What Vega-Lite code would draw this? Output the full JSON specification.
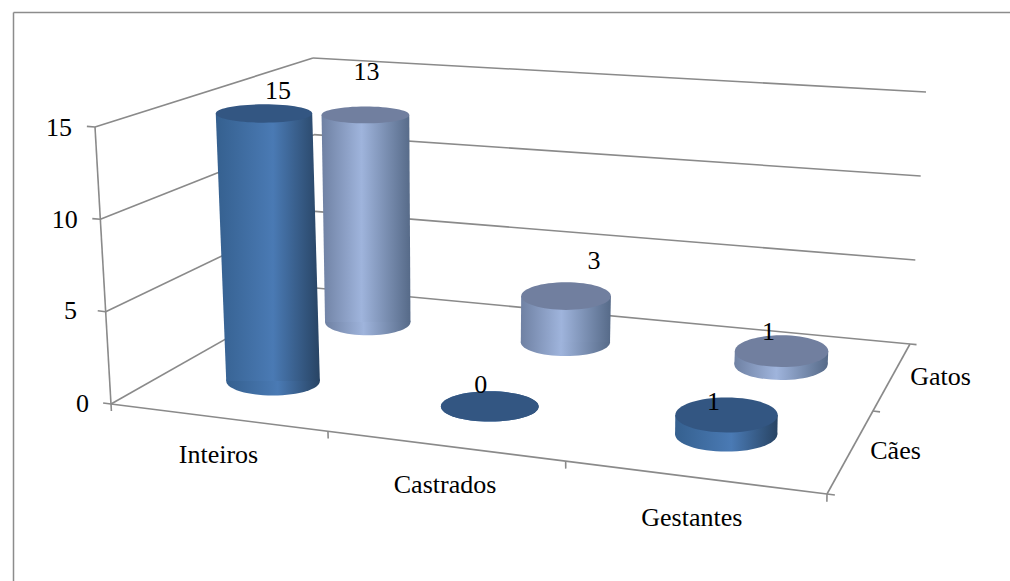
{
"$schema":"https://vega.github.io/schema/vega-lite/v6.json",
"autosize":{"type":"none"},
"padding":{"left":13,"top":12,"right":0,"bottom":0},
"width":997,"height":569,
"background":"white",
"view":{"stroke":null,"fill":"white"},
"resolve":{"axis":{"x":"independent","y":"independent"}},
"datasets":{
"cilindros":[
{"categoria":"Inteiros","especie":"Cães","valor":15},
{"categoria":"Castrados","especie":"Cães","valor":0},
{"categoria":"Gestantes","especie":"Cães","valor":1},
{"categoria":"Inteiros","especie":"Gatos","valor":13},
{"categoria":"Castrados","especie":"Gatos","valor":3},
{"categoria":"Gestantes","especie":"Gatos","valor":1}
],
"linhas":[
{"u":0,"d":1,"z":1,"u2":1,"d2":1,"z2":1},
{"u":0,"d":1,"z":0.6667,"u2":1,"d2":1,"z2":0.6667},
{"u":0,"d":1,"z":0.3333,"u2":1,"d2":1,"z2":0.3333},
{"u":0,"d":1,"z":0,"u2":1,"d2":1,"z2":0},
{"u":0,"d":0,"z":1,"u2":0,"d2":1,"z2":1},
{"u":0,"d":0,"z":0.6667,"u2":0,"d2":1,"z2":0.6667},
{"u":0,"d":0,"z":0.3333,"u2":0,"d2":1,"z2":0.3333},
{"u":0,"d":0,"z":0,"u2":0,"d2":1,"z2":0},
{"u":0,"d":0,"z":0,"u2":0,"d2":0,"z2":1},
{"u":0,"d":0,"z":0,"u2":1,"d2":0,"z2":0},
{"u":1,"d":0,"z":0,"u2":1,"d2":1,"z2":0},
{"u":0,"d":0,"z":1,"u2":-0.011,"d2":0,"z2":1},
{"u":0,"d":0,"z":0.6667,"u2":-0.011,"d2":0,"z2":0.6667},
{"u":0,"d":0,"z":0.3333,"u2":-0.011,"d2":0,"z2":0.3333},
{"u":0,"d":0,"z":0,"u2":-0.011,"d2":0,"z2":0},
{"u":0,"d":0,"z":0,"u2":0,"d2":0,"z2":-0.025},
{"u":0.303,"d":0,"z":0,"u2":0.303,"d2":0,"z2":-0.025},
{"u":0.635,"d":0,"z":0,"u2":0.635,"d2":0,"z2":-0.025},
{"u":1,"d":0,"z":0,"u2":1,"d2":0,"z2":-0.025},
{"u":1,"d":0,"z":0,"u2":1.011,"d2":0,"z2":0},
{"u":1,"d":0.553,"z":0,"u2":1.011,"d2":0.553,"z2":0},
{"u":1,"d":1,"z":0,"u2":1.011,"d2":1,"z2":0}
],
"rotulos":[
{"texto":"15","u":-0.049,"d":0,"z":0.987},
{"texto":"10","u":-0.049,"d":0,"z":0.654},
{"texto":"5","u":-0.049,"d":0,"z":0.32},
{"texto":"0","u":-0.04,"d":0,"z":-0.013},
{"texto":"Inteiros","u":0.215,"d":-0.26,"z":0},
{"texto":"Castrados","u":0.518,"d":-0.26,"z":0},
{"texto":"Gestantes","u":0.848,"d":-0.26,"z":0},
{"texto":"Gatos","u":1.075,"d":0.81,"z":0},
{"texto":"Cães","u":1.062,"d":0.32,"z":0}
]
},
"layer":[
{"data":{"name":"linhas"},
"transform":[
{"calculate":"(1-datum.z)*((1-datum.d)*((1-datum.u)*111+datum.u*827)+datum.d*((1-datum.u)*316+datum.u*910))+datum.z*((1-datum.d)*((1-datum.u)*95+datum.u*832)+datum.d*((1-datum.u)*313+datum.u*926))","as":"px"},
{"calculate":"(1-datum.z)*((1-datum.d)*((1-datum.u)*404+datum.u*494)+datum.d*((1-datum.u)*288+datum.u*344))+datum.z*((1-datum.d)*((1-datum.u)*127+datum.u*182)+datum.d*((1-datum.u)*58+datum.u*92))","as":"py"},
{"calculate":"(1-datum.z2)*((1-datum.d2)*((1-datum.u2)*111+datum.u2*827)+datum.d2*((1-datum.u2)*316+datum.u2*910))+datum.z2*((1-datum.d2)*((1-datum.u2)*95+datum.u2*832)+datum.d2*((1-datum.u2)*313+datum.u2*926))","as":"px2"},
{"calculate":"(1-datum.z2)*((1-datum.d2)*((1-datum.u2)*404+datum.u2*494)+datum.d2*((1-datum.u2)*288+datum.u2*344))+datum.z2*((1-datum.d2)*((1-datum.u2)*127+datum.u2*182)+datum.d2*((1-datum.u2)*58+datum.u2*92))","as":"py2"}
],
"mark":{"type":"rule","color":"#8a8a8a","strokeWidth":1.6},
"encoding":{
"x":{"field":"px","type":"quantitative","axis":{"orient":"top","title":null,"labels":false,"ticks":false,"grid":false,"domain":true,"domainColor":"#8c8c8c","domainWidth":1.5},"scale":{"domain":[13,1010],"range":[0,997]}},
"x2":{"field":"px2"},
"y":{"field":"py","type":"quantitative","axis":{"orient":"left","title":null,"labels":false,"ticks":false,"grid":false,"domain":true,"domainColor":"#8c8c8c","domainWidth":1.5},"scale":{"domain":[12,581],"range":[0,569]}},
"y2":{"field":"py2"}
}},
{"data":{"name":"rotulos"},
"transform":[
{"calculate":"(1-datum.z)*((1-datum.d)*((1-datum.u)*111+datum.u*827)+datum.d*((1-datum.u)*316+datum.u*910))+datum.z*((1-datum.d)*((1-datum.u)*95+datum.u*832)+datum.d*((1-datum.u)*313+datum.u*926))","as":"px"},
{"calculate":"(1-datum.z)*((1-datum.d)*((1-datum.u)*404+datum.u*494)+datum.d*((1-datum.u)*288+datum.u*344))+datum.z*((1-datum.d)*((1-datum.u)*127+datum.u*182)+datum.d*((1-datum.u)*58+datum.u*92))","as":"py"}
],
"mark":{"type":"text","font":"Liberation Serif","fontSize":26,"color":"black","align":"center","baseline":"middle"},
"encoding":{
"x":{"field":"px","type":"quantitative","axis":null,"scale":{"domain":[13,1010],"range":[0,997]}},
"y":{"field":"py","type":"quantitative","axis":null,"scale":{"domain":[12,581],"range":[0,569]}},
"text":{"field":"texto"}
}},
{"data":{"name":"cilindros"},
"transform":[
{"calculate":"[0.148,0.467,0.815][indexof(['Inteiros','Castrados','Gestantes'],datum.categoria)]+(datum.especie=='Cães'?0:0.005)","as":"u"},
{"calculate":"datum.especie=='Cães'?0.3:0.79","as":"d"},
{"calculate":"['base','topo']","as":"fase"},
{"flatten":["fase"]},
{"calculate":"datum.fase=='base'?0:(datum.especie=='Cães'?datum.valor:datum.valor-0.25)/15","as":"z"},
{"calculate":"(1-datum.z)*((1-datum.d)*111+datum.d*316)+datum.z*((1-datum.d)*95+datum.d*313)","as":"ax"},
{"calculate":"(1-datum.z)*((1-datum.d)*827+datum.d*910)+datum.z*((1-datum.d)*832+datum.d*926)","as":"bx"},
{"calculate":"(1-datum.z)*((1-datum.d)*404+datum.d*288)+datum.z*((1-datum.d)*127+datum.d*58)","as":"ay"},
{"calculate":"(1-datum.z)*((1-datum.d)*494+datum.d*344)+datum.z*((1-datum.d)*182+datum.d*92)","as":"by"},
{"calculate":"datum.ax+(datum.bx-datum.ax)*datum.u","as":"px"},
{"calculate":"datum.ay+(datum.by-datum.ay)*datum.u","as":"py"},
{"calculate":"(0.0675+0.0095*datum.u)*(datum.bx-datum.ax)","as":"meio"},
{"calculate":"datum.px-datum.meio","as":"pxE"},
{"calculate":"datum.px+datum.meio","as":"pxD"},
{"calculate":"pow(2*datum.meio,2)","as":"area2"},
{"calculate":"datum.fase=='topo'&&datum.valor>=13?'alto':(datum.categoria=='Gestantes'?'largo':'baixo')","as":"forma"}
],
"encoding":{
"y":{"field":"py","type":"quantitative","axis":null,"scale":{"domain":[12,581],"range":[0,569]}}
},
"layer":[
{"transform":[{"filter":"datum.especie=='Gatos'&&datum.fase=='base'"}],
"mark":{"type":"point","filled":true,"opacity":1,"fill":{"gradient":"linear","x1":0,"x2":1,"y1":0,"y2":0,"stops":[{"offset":0,"color":"#6f81a3"},{"offset":0.45,"color":"#9fb4dc"},{"offset":1,"color":"#566a88"}]}},
"encoding":{"x":{"field":"px","type":"quantitative","axis":null,"scale":{"domain":[13,1010],"range":[0,997]}},
"size":{"field":"area2","type":"quantitative","scale":null},
"shape":{"field":"forma","type":"nominal","legend":null,"scale":{"domain":["alto","baixo","largo"],"range":["M-1,0A1,0.19,0,1,1,1,0A1,0.19,0,1,1,-1,0Z","M-1,0A1,0.31,0,1,1,1,0A1,0.31,0,1,1,-1,0Z","M-1,0A1,0.34,0,1,1,1,0A1,0.34,0,1,1,-1,0Z"]}}}},
{"transform":[{"filter":"datum.especie=='Gatos'"}],
"mark":{"type":"area","orient":"horizontal","opacity":1,"fill":{"gradient":"linear","x1":0,"x2":1,"y1":0,"y2":0,"stops":[{"offset":0,"color":"#6f81a3"},{"offset":0.45,"color":"#9fb4dc"},{"offset":1,"color":"#566a88"}]}},
"encoding":{"x":{"field":"pxE","type":"quantitative","axis":null,"scale":{"domain":[13,1010],"range":[0,997]}},
"x2":{"field":"pxD"},
"detail":{"field":"categoria"}}},
{"transform":[{"filter":"datum.especie=='Gatos'&&datum.fase=='topo'"}],
"mark":{"type":"point","filled":true,"opacity":1,"fill":"#717f9f"},
"encoding":{"x":{"field":"px","type":"quantitative","axis":null,"scale":{"domain":[13,1010],"range":[0,997]}},
"size":{"field":"area2","type":"quantitative","scale":null},
"shape":{"field":"forma","type":"nominal","legend":null,"scale":{"domain":["alto","baixo","largo"],"range":["M-1,0A1,0.19,0,1,1,1,0A1,0.19,0,1,1,-1,0Z","M-1,0A1,0.31,0,1,1,1,0A1,0.31,0,1,1,-1,0Z","M-1,0A1,0.34,0,1,1,1,0A1,0.34,0,1,1,-1,0Z"]}}}},
{"transform":[{"filter":"datum.especie=='Cães'&&datum.fase=='base'"}],
"mark":{"type":"point","filled":true,"opacity":1,"fill":{"gradient":"linear","x1":0,"x2":1,"y1":0,"y2":0,"stops":[{"offset":0,"color":"#35608f"},{"offset":0.55,"color":"#4a7ab4"},{"offset":1,"color":"#284464"}]}},
"encoding":{"x":{"field":"px","type":"quantitative","axis":null,"scale":{"domain":[13,1010],"range":[0,997]}},
"size":{"field":"area2","type":"quantitative","scale":null},
"shape":{"field":"forma","type":"nominal","legend":null,"scale":{"domain":["alto","baixo","largo"],"range":["M-1,0A1,0.19,0,1,1,1,0A1,0.19,0,1,1,-1,0Z","M-1,0A1,0.31,0,1,1,1,0A1,0.31,0,1,1,-1,0Z","M-1,0A1,0.34,0,1,1,1,0A1,0.34,0,1,1,-1,0Z"]}}}},
{"transform":[{"filter":"datum.especie=='Cães'"}],
"mark":{"type":"area","orient":"horizontal","opacity":1,"fill":{"gradient":"linear","x1":0,"x2":1,"y1":0,"y2":0,"stops":[{"offset":0,"color":"#35608f"},{"offset":0.55,"color":"#4a7ab4"},{"offset":1,"color":"#284464"}]}},
"encoding":{"x":{"field":"pxE","type":"quantitative","axis":null,"scale":{"domain":[13,1010],"range":[0,997]}},
"x2":{"field":"pxD"},
"detail":{"field":"categoria"}}},
{"transform":[{"filter":"datum.especie=='Cães'&&datum.fase=='topo'"}],
"mark":{"type":"point","filled":true,"opacity":1,"fill":"#335682"},
"encoding":{"x":{"field":"px","type":"quantitative","axis":null,"scale":{"domain":[13,1010],"range":[0,997]}},
"size":{"field":"area2","type":"quantitative","scale":null},
"shape":{"field":"forma","type":"nominal","legend":null,"scale":{"domain":["alto","baixo","largo"],"range":["M-1,0A1,0.19,0,1,1,1,0A1,0.19,0,1,1,-1,0Z","M-1,0A1,0.31,0,1,1,1,0A1,0.31,0,1,1,-1,0Z","M-1,0A1,0.34,0,1,1,1,0A1,0.34,0,1,1,-1,0Z"]}}}},
{"transform":[{"filter":"datum.fase=='topo'&&datum.categoria=='Inteiros'&&datum.especie=='Cães'"}],
"mark":{"type":"text","font":"Liberation Serif","fontSize":26,"color":"black","dx":14,"dy":-23},
"encoding":{"x":{"field":"px","type":"quantitative","axis":null,"scale":{"domain":[13,1010],"range":[0,997]}},"text":{"field":"valor","type":"quantitative"}}},
{"transform":[{"filter":"datum.fase=='topo'&&datum.categoria=='Inteiros'&&datum.especie=='Gatos'"}],
"mark":{"type":"text","font":"Liberation Serif","fontSize":26,"color":"black","dx":1,"dy":-43},
"encoding":{"x":{"field":"px","type":"quantitative","axis":null,"scale":{"domain":[13,1010],"range":[0,997]}},"text":{"field":"valor","type":"quantitative"}}},
{"transform":[{"filter":"datum.fase=='topo'&&datum.categoria=='Castrados'&&datum.especie=='Cães'"}],
"mark":{"type":"text","font":"Liberation Serif","fontSize":26,"color":"black","dx":-9,"dy":-21},
"encoding":{"x":{"field":"px","type":"quantitative","axis":null,"scale":{"domain":[13,1010],"range":[0,997]}},"text":{"field":"valor","type":"quantitative"}}},
{"transform":[{"filter":"datum.fase=='topo'&&datum.categoria=='Castrados'&&datum.especie=='Gatos'"}],
"mark":{"type":"text","font":"Liberation Serif","fontSize":26,"color":"black","dx":28,"dy":-35},
"encoding":{"x":{"field":"px","type":"quantitative","axis":null,"scale":{"domain":[13,1010],"range":[0,997]}},"text":{"field":"valor","type":"quantitative"}}},
{"transform":[{"filter":"datum.fase=='topo'&&datum.categoria=='Gestantes'&&datum.especie=='Cães'"}],
"mark":{"type":"text","font":"Liberation Serif","fontSize":26,"color":"black","dx":-13,"dy":-13},
"encoding":{"x":{"field":"px","type":"quantitative","axis":null,"scale":{"domain":[13,1010],"range":[0,997]}},"text":{"field":"valor","type":"quantitative"}}},
{"transform":[{"filter":"datum.fase=='topo'&&datum.categoria=='Gestantes'&&datum.especie=='Gatos'"}],
"mark":{"type":"text","font":"Liberation Serif","fontSize":26,"color":"black","dx":-13,"dy":-19},
"encoding":{"x":{"field":"px","type":"quantitative","axis":null,"scale":{"domain":[13,1010],"range":[0,997]}},"text":{"field":"valor","type":"quantitative"}}}
]}
]
}
